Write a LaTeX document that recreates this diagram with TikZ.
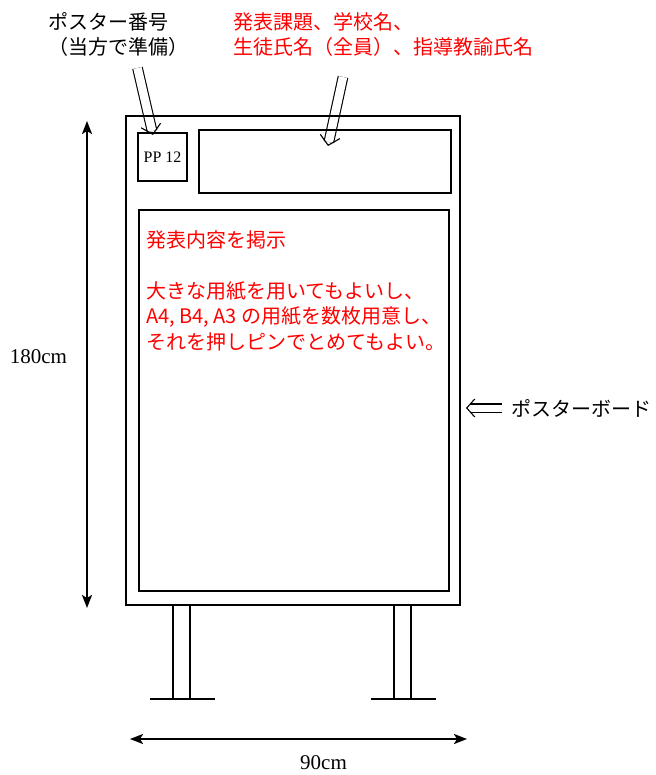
\documentclass[tikz,border=0pt]{standalone}
\usepackage{fontspec}
\setmainfont{Liberation Serif}
\newfontfamily\jpfont{Noto Sans CJK JP}
\usetikzlibrary{arrows.meta,calc}

\begin{document}
\begin{tikzpicture}[x=1pt,y=-1pt,
    frame/.style={draw,line width=1.6pt,inner sep=0pt},
    slot/.style={draw,line width=1.2pt,inner sep=0pt},
    jp/.style={font=\jpfont\fontsize{20}{25.5}\selectfont,inner sep=0pt,align=left},
    pointer/.style={double,line width=1.1pt,double distance=8.5pt,shorten >=4pt},
    pointhead/.style={line width=1.1pt,-{Straight Barb[length=9pt,width=20pt]}},
    dim/.style={line width=2.2pt,{Stealth[length=13pt,width=10pt,inset=3pt]}-{Stealth[length=13pt,width=10pt,inset=3pt]}},
    dimlabel/.style={font=\fontsize{21}{24}\selectfont,inner sep=0pt}]
  \useasboundingbox (0,0) rectangle (655,775);

  % double pointers (drawn first, the board lines run over them)
  \coordinate (numtail) at (137.5,68);
  \coordinate (numtip) at (153,135);
  \coordinate (titletail) at (343,77);
  \coordinate (titletip) at (328,146);
  \coordinate (boardtail) at (502,408);
  \coordinate (boardtip) at (466,408);
  \foreach \p in {num,title} {
    \draw[pointer] (\p tail) -- (\p tip);
    \draw[pointhead] ($(\p tip)!1pt!(\p tail)$) -- (\p tip);
  }
  \draw[pointer,double distance=7pt,shorten >=3.5pt] (boardtail) -- (boardtip);
  \draw[pointhead,-{Straight Barb[length=8pt,width=18pt]}] ($(boardtip)!1pt!(boardtail)$) -- (boardtip);

  % board and its fields
  \node[frame,minimum width=334pt,minimum height=489pt] (board) at (293,360.5) {};
  \node[slot,minimum width=49pt,minimum height=48pt,font=\fontsize{16}{18}\selectfont] (number) at (162.5,157) {PP 12};
  \node[slot,minimum width=252pt,minimum height=63pt] (title) at (325,161.5) {};
  \node[slot,minimum width=310pt,minimum height=381pt] (content) at (294,400.5) {};
  \node[jp,red,anchor=north west] (notes) at (146,230)
    {発表内容を掲示\\ \\大きな用紙を用いてもよいし、\\A4, B4, A3 の用紙を数枚用意し、\\それを押しピンでとめてもよい。};

  % legs
  \foreach \x in {173,394}
    \draw[line width=1.2pt] (\x,605) -- (\x,699) (\x+17,605) -- (\x+17,699) (\x-23,699) -- (\x+42,699);

  % captions
  \node[jp,anchor=north west] (numbernote) at (48,12) {ポスター番号\\（当方で準備）};
  \node[jp,red,anchor=north west] (titlenote) at (233,12) {発表課題、学校名、\\生徒氏名（全員）、指導教諭氏名};
  \node[jp,anchor=west] (boardnote) at (511,408) {ポスターボード};

  % dimensions
  \coordinate (htop) at (87,121);
  \coordinate (hbottom) at (87,608);
  \coordinate (wleft) at (130,739);
  \coordinate (wright) at (467,739);
  \draw[dim] (htop) -- (hbottom);
  \draw[dim] (wleft) -- (wright);
  \node[dimlabel] (height) at (38.5,357) {180cm};
  \node[dimlabel] (width) at (323.5,763) {90cm};
\end{tikzpicture}
\end{document}
